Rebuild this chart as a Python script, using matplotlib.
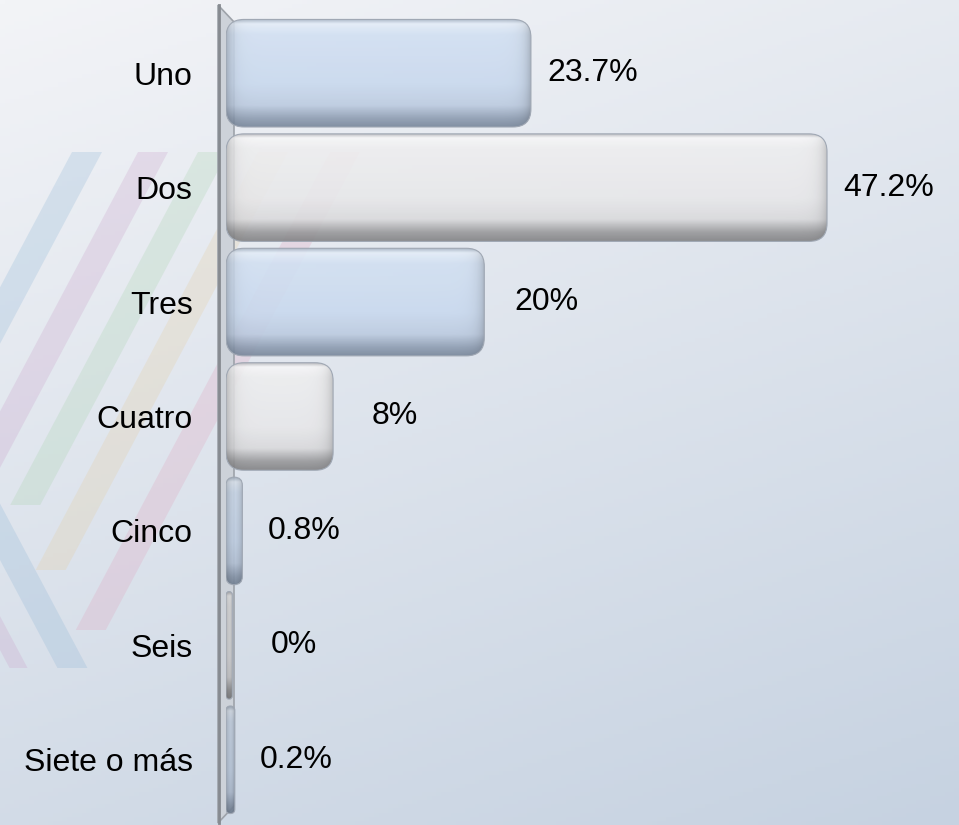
import numpy as np
import matplotlib
matplotlib.use('Agg')
import matplotlib.pyplot as plt
from matplotlib.patches import FancyBboxPatch, Polygon
from matplotlib.colors import to_rgb

# data
categories = ['Uno', 'Dos', 'Tres', 'Cuatro', 'Cinco', 'Seis', 'Siete o más']
values = [23.7, 47.2, 20, 8, 0.8, 0, 0.2]
value_labels = ['23.7%', '47.2%', '20%', '8%', '0.8%', '0%', '0.2%']

plt.rcParams['font.family'] = ['Liberation Sans', 'DejaVu Sans']

W, H = 959, 825
fig = plt.figure(figsize=(W / 100, H / 100), dpi=100)

# background: soft blue-grey gradient
bg = fig.add_axes([0, 0, 1, 1], zorder=-10)
bg.set_xlim(0, W)
bg.set_ylim(H, 0)
bg.axis('off')
yy, xx = np.mgrid[0:1:200j, 0:1:200j]
t = 0.72 * yy + 0.28 * xx
c_top = np.array(to_rgb('#f3f4f7'))
c_bot = np.array(to_rgb('#c6d2e1'))
bg.imshow(c_top + (c_bot - c_top) * t[..., None], extent=(0, W, H, 0), aspect='auto')

# faint diagonal stripes on the left
s = 1.88
def slash(xtop, w, yend, color):
    # "/" stripe from the y=152 line down-left to yend
    pts = [(xtop, 152), (xtop + w, 152),
           (xtop + w - (yend - 152) / s, yend),
           (xtop - (yend - 152) / s, yend)]
    bg.add_patch(Polygon(pts, closed=True, color=color, alpha=0.26, lw=0))

slash(72, 30, 400, '#8fb6d6')
slash(138, 30, 470, '#c9a0c9')
slash(198, 30, 505, '#a9d3ae')
slash(258, 30, 570, '#e4cda0')
slash(330, 30, 630, '#e0a3bd')

def backslash(y0, w, yend, color):
    pts = [(0, y0 - w * s), (0, y0), ((yend - y0) / s, yend),
           ((yend - y0) / s + w, yend)]
    bg.add_patch(Polygon(pts, closed=True, color=color, alpha=0.26, lw=0))

backslash(560, 30, 668, '#8fb6d6')
backslash(650, 18, 668, '#c9a0c9')

# vertical 3D wall
bg.add_patch(Polygon([(218, 5), (234, 22), (234, 806), (218, 823)], closed=True,
                     facecolor='#cdd2d9', edgecolor='#9ea3aa', lw=1.2))
bg.plot([219, 219], [5, 823], color='#868a90', lw=2)

# main axes
px_per_unit = 12.6
left_px = 226
ax = fig.add_axes([left_px / W, 8 / H, (W - left_px) / W, 801 / H])
ax.set_facecolor('none')
x_min = -0.5
px_per_row = 801 / len(categories)
for sp in ax.spines.values():
    sp.set_visible(False)
ax.set_xticks([])
ax.set_yticks(range(len(categories)))
ax.set_yticklabels(categories, fontsize=23)
ax.tick_params(axis='y', length=0, pad=24)

blue_stops = ['#a7b4c4', '#e4edf8', '#d2e0f2', '#c9d9ee', '#bccbe0', '#8e9db2', '#77869a']
gray_stops = ['#b0b0b4', '#f7f7f8', '#eeeeef', '#e8e8ea', '#dadadc', '#9a9a9c', '#838385']
stop_pos = [0.0, 0.04, 0.14, 0.6, 0.8, 0.92, 1.0]

def profile(stops, n):
    rgb = np.array([to_rgb(c) for c in stops])
    tt = np.linspace(0, 1, n)
    return np.stack([np.interp(tt, stop_pos, rgb[:, k]) for k in range(3)], axis=1)

bar_h = 0.94
aspect = px_per_unit / px_per_row
for i, v in enumerate(values):
    stops = blue_stops if i % 2 == 0 else gray_stops
    width = v - x_min
    w_px = width * px_per_unit
    r = min(18 / px_per_unit, width / 2)
    patch = FancyBboxPatch((x_min, i - bar_h / 2), width, bar_h,
                           boxstyle=f'round,pad=0,rounding_size={r}',
                           mutation_aspect=aspect, facecolor='none',
                           edgecolor='#a0a8b4', lw=0.8, zorder=3)
    ax.add_patch(patch)
    ny = 120
    nx = max(int(w_px), 2)
    vert = profile(stops, ny)
    xp = np.linspace(0, w_px, nx)
    d = np.minimum(xp, w_px - xp)
    shade = 1 - 0.22 * np.exp(-d / 6)
    img = vert[:, None, :] * shade[None, :, None]
    im = ax.imshow(img, extent=(x_min, v, i + bar_h / 2, i - bar_h / 2),
                   aspect='auto', zorder=2, alpha=0.9, interpolation='bilinear')
    im.set_clip_path(patch)
    ax.text(v + 4.9, i, value_labels[i], ha='center', va='center', fontsize=23)

ax.set_xlim(x_min, x_min + (W - left_px) / px_per_unit)
ax.set_ylim(len(categories) - 0.5, -0.5)

fig.savefig('out.png', dpi=100)
